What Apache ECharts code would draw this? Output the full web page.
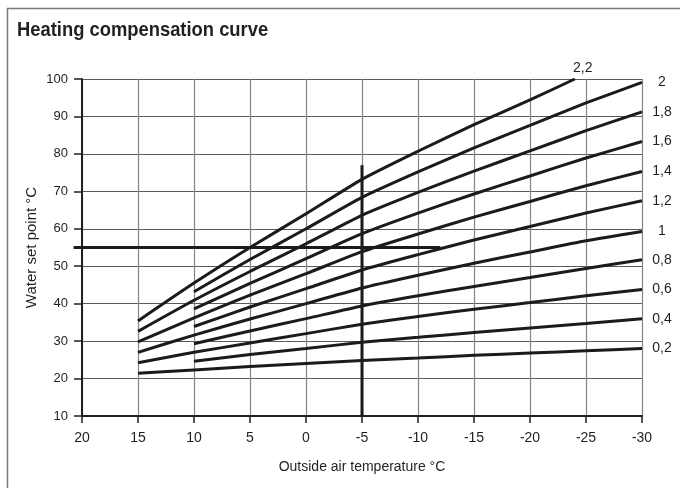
<!DOCTYPE html>
<html>
<head>
<meta charset="utf-8">
<script src="https://cdn.jsdelivr.net/npm/echarts@6/dist/echarts.min.js"></script>
<style>
  html, body { margin: 0; padding: 0; background: #fff; }
  #main { width: 680px; height: 488px; }
</style>
</head>
<body>
<div id="main"></div>
<script>
var tempFrom15 = [15, 10, 5, 0, -5, -10, -15, -20, -25, -30];
var tempFrom10 = [10, 5, 0, -5, -10, -15, -20, -25, -30];
var temp22 = [15, 10, 5, 0, -5, -10, -15, -20, -24];

// water set point per curve slope
var curve02 = [21.4, 22.3, 23.2, 24.0, 24.8, 25.5, 26.2, 26.8, 27.4, 28.0];
var curve04 = [24.6, 26.4, 28.0, 29.7, 31.0, 32.3, 33.5, 34.7, 36.0];
var curve06 = [24.2, 27.0, 29.5, 32.0, 34.5, 36.6, 38.5, 40.3, 42.1, 43.8];
var curve08 = [29.3, 32.7, 36.0, 39.4, 42.1, 44.6, 47.0, 49.4, 51.7];
var curve10 = [27.0, 31.6, 35.9, 40.0, 44.2, 47.6, 50.8, 53.8, 56.8, 59.3];
var curve12 = [33.9, 39.1, 44.0, 49.0, 53.1, 57.0, 60.6, 64.2, 67.5];
var curve14 = [29.8, 36.2, 42.3, 48.0, 53.9, 58.6, 63.1, 67.3, 71.5, 75.3];
var curve16 = [38.6, 45.4, 52.0, 58.7, 64.2, 69.3, 74.1, 78.9, 83.3];
var curve18 = [32.6, 40.9, 48.6, 56.0, 63.6, 69.7, 75.4, 80.8, 86.2, 91.2];
var curve20 = [43.2, 51.8, 60.0, 68.4, 75.2, 81.6, 87.6, 93.6, 99.1];
var curve22 = [35.4, 45.5, 55.0, 64.0, 73.2, 80.7, 87.8, 94.4, 100];

var curveNames = ['0,2', '0,4', '0,6', '0,8', '1', '1,2', '1,4', '1,6', '1,8', '2', '2,2'];

// reading example: 55 °C set point, -5 °C outside
var crossHx = [20.75, -12];
var crossHy = 55;
var crossVx = -5;
var crossVy = [10, 77];

var fontFam = 'Liberation Sans, Arial, sans-serif';
var lineColor = '#1c1a1b';
var textColor = '#231f20';

var myChart = echarts.init(document.getElementById('main'));

function makeData(xs, ys) {
    var out = [];
    for (var i = 0; i < xs.length; i++) {
        out.push([xs[i], ys[i]]);
    }
    return out;
}

function makeCurve(name, xs, ys, top) {
    var d = makeData(xs, ys);
    var last = d.length - 1;
    // label only on the end point of each curve
    d[last] = {
        value: d[last],
        label: top ? {
            show: true,
            formatter: name,
            position: 'top',
            distance: 4,
            offset: [8, 0]
        } : {
            show: true,
            formatter: name,
            position: 'right',
            distance: 20,
            align: 'center'
        }
    };
    return {
        name: name,
        type: 'line',
        data: d,
        smooth: 0.2,
        symbol: 'circle',
        symbolSize: 0,
        showSymbol: true,
        clip: false,
        silent: true,
        lineStyle: { color: lineColor, width: 3 },
        itemStyle: { color: lineColor },
        label: {
            show: false,
            color: textColor,
            fontSize: 14,
            fontFamily: fontFam
        },
        z: 3
    };
}

var series = [
    makeCurve(curveNames[0], tempFrom15, curve02),
    makeCurve(curveNames[1], tempFrom10, curve04),
    makeCurve(curveNames[2], tempFrom15, curve06),
    makeCurve(curveNames[3], tempFrom10, curve08),
    makeCurve(curveNames[4], tempFrom15, curve10),
    makeCurve(curveNames[5], tempFrom10, curve12),
    makeCurve(curveNames[6], tempFrom15, curve14),
    makeCurve(curveNames[7], tempFrom10, curve16),
    makeCurve(curveNames[8], tempFrom15, curve18),
    makeCurve(curveNames[9], tempFrom10, curve20),
    makeCurve(curveNames[10], temp22, curve22, true),
    {
        name: 'cross v',
        type: 'line',
        data: [[crossVx, crossVy[0]], [crossVx, crossVy[1]]],
        showSymbol: false,
        clip: false,
        silent: true,
        lineStyle: { color: lineColor, width: 3 },
        z: 4
    }
];

var option = {
    animation: false,
    backgroundColor: '#fff',
    textStyle: { fontFamily: fontFam },
    graphic: [{
        type: 'rect',
        shape: { x: 7.5, y: 8.5, width: 700, height: 500 },
        style: { fill: null, stroke: '#7a7a7a', lineWidth: 1.5 },
        silent: true,
        z: -1
    }, {
        // title, a bit condensed like the original
        type: 'text',
        x: 17,
        y: 20,
        scaleX: 0.875,
        silent: true,
        style: {
            text: 'Heating compensation curve',
            fill: textColor,
            font: 'bold 21px ' + fontFam,
            textVerticalAlign: 'top'
        }
    }],
    grid: {
        left: 82,
        right: 38,
        top: 79,
        bottom: 72
    },
    xAxis: {
        type: 'value',
        inverse: true,
        min: -30,
        max: 20,
        interval: 5,
        name: 'Outside air temperature °C',
        nameLocation: 'middle',
        nameGap: 44,
        nameTextStyle: { color: textColor, fontSize: 14 },
        axisLine: { show: true, onZero: false, lineStyle: { color: textColor, width: 2 } },
        axisTick: { show: true, length: 7, lineStyle: { color: textColor, width: 1.5 } },
        axisLabel: { color: textColor, fontSize: 14, margin: 15 },
        splitLine: { show: true, lineStyle: { color: '#858585', width: 1.2 } }
    },
    yAxis: {
        type: 'value',
        min: 10,
        max: 100,
        interval: 10,
        name: 'Water set point °C',
        nameLocation: 'middle',
        nameGap: 43,
        nameMoveOverlap: false,
        nameTextStyle: { color: textColor, fontSize: 15 },
        axisLine: { show: true, onZero: false, lineStyle: { color: textColor, width: 2 } },
        axisTick: { show: true, length: 8, lineStyle: { color: textColor, width: 1.5 } },
        axisLabel: { color: textColor, fontSize: 13, margin: 14 },
        splitLine: { show: true, lineStyle: { color: '#5a5a5a', width: 1.2 } }
    },
    series: series
};

myChart.setOption(option);

// the 55 °C line runs a little past the y axis, so draw it outside the grid clip
var pA = myChart.convertToPixel({ xAxisIndex: 0, yAxisIndex: 0 }, [crossHx[0], crossHy]);
var pB = myChart.convertToPixel({ xAxisIndex: 0, yAxisIndex: 0 }, [crossHx[1], crossHy]);
myChart.setOption({
    graphic: [{
        type: 'line',
        id: 'crossH',
        silent: true,
        z: 10,
        shape: { x1: pA[0], y1: pA[1], x2: pB[0], y2: pB[1] },
        style: { stroke: lineColor, lineWidth: 3 }
    }]
});
</script>
</body>
</html>
